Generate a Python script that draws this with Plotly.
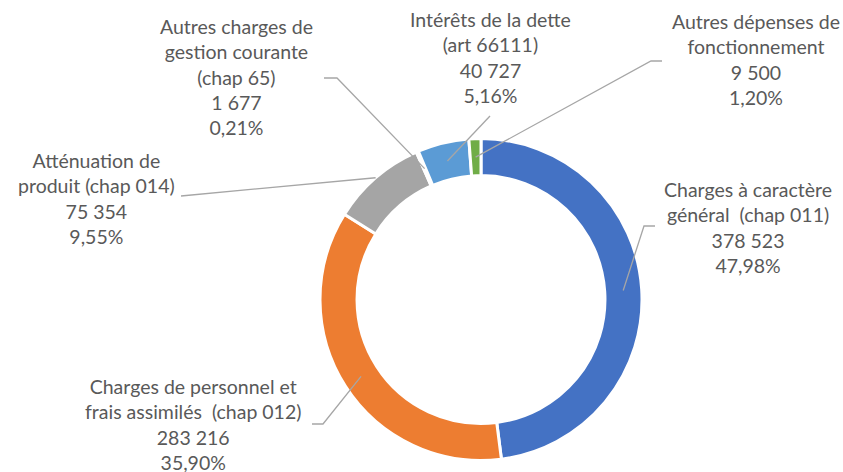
import math
import plotly.graph_objects as go

W, H = 843, 472

# ---- data ----
categories = [
    "Charges à caractère<br>général  (chap 011)",
    "Charges de personnel et<br>frais assimilés  (chap 012)",
    "Atténuation de<br>produit (chap 014)",
    "Autres charges de<br>gestion courante<br>(chap 65)",
    "Intérêts de la dette<br>(art 66111)",
    "Autres dépenses de<br>fonctionnement",
]
values = [378523, 283216, 75354, 1677, 40727, 9500]
value_labels = ["378 523", "283 216", "75 354", "1 677", "40 727", "9 500"]
percent_labels = ["47,98%", "35,90%", "9,55%", "0,21%", "5,16%", "1,20%"]
colors = ["#4472C4", "#ED7D31", "#A5A5A5", "#FFC000", "#5B9BD5", "#70AD47"]

# ---- layout constants (pixels) ----
CX, CY, R = 481, 299.5, 161
HOLE = 0.77
# label block: center x, top y
label_pos = [(748, 176), (193, 373), (96, 147), (237, 13), (490, 6), (756, 8)]
# leader polylines: start and elbow (pixels); end computed from slice angle
leader_pts = [
    [(655, 226), (644, 226)],
    [(312, 424), (323, 424)],
    [(181, 196), (181, 196)],
    [(324, 78), (337, 78)],
    [(490, 116), (490, 116)],
    [(662, 61), (651, 61)],
]
leader_r = [0.885, 0.885, 1.0, 0.885, 0.885, 0.885]
FONT_SIZE = 19.5


def px(x):
    return x / W


def py(y):
    return 1 - y / H


fig = go.Figure(
    go.Pie(
        values=values,
        labels=[c.replace("<br>", " ") for c in categories],
        marker=dict(colors=colors, line=dict(color="white", width=3)),
        hole=HOLE,
        sort=False,
        direction="clockwise",
        rotation=0,
        textinfo="none",
        hoverinfo="label+value+percent",
        showlegend=False,
        domain=dict(x=[px(CX - R), px(CX + R)], y=[py(CY + R), py(CY - R)]),
    )
)

total = sum(values)
cum = 0
annotations = []
shapes = []
for i, v in enumerate(values):
    mid = (cum + v / 2) / total * 2 * math.pi
    cum += v
    r = R * leader_r[i]
    ex = CX + r * math.sin(mid)
    ey = CY - r * math.cos(mid)
    (x0, y0), (x1, y1) = leader_pts[i]
    path = f"M {px(x0)} {py(y0)} L {px(x1)} {py(y1)} L {px(ex)} {py(ey)}"
    shapes.append(dict(type="path", xref="paper", yref="paper", path=path,
                       line=dict(color="#A6A6A6", width=1.3)))
    lx, ly = label_pos[i]
    annotations.append(dict(
        x=px(lx), y=py(ly), xref="paper", yref="paper",
        xanchor="center", yanchor="top", align="center", showarrow=False,
        text=f"{categories[i]}<br>{value_labels[i]}<br>{percent_labels[i]}",
        font=dict(family="Lato", size=FONT_SIZE, color="#595959"),
    ))

fig.update_layout(
    width=W, height=H,
    margin=dict(l=0, r=0, t=0, b=0),
    paper_bgcolor="white",
    plot_bgcolor="white",
    annotations=annotations,
    shapes=shapes,
)

fig.write_html(
    "out.html",
    config={"displayModeBar": False},
    post_script="document.body.style.margin='0';",
)
